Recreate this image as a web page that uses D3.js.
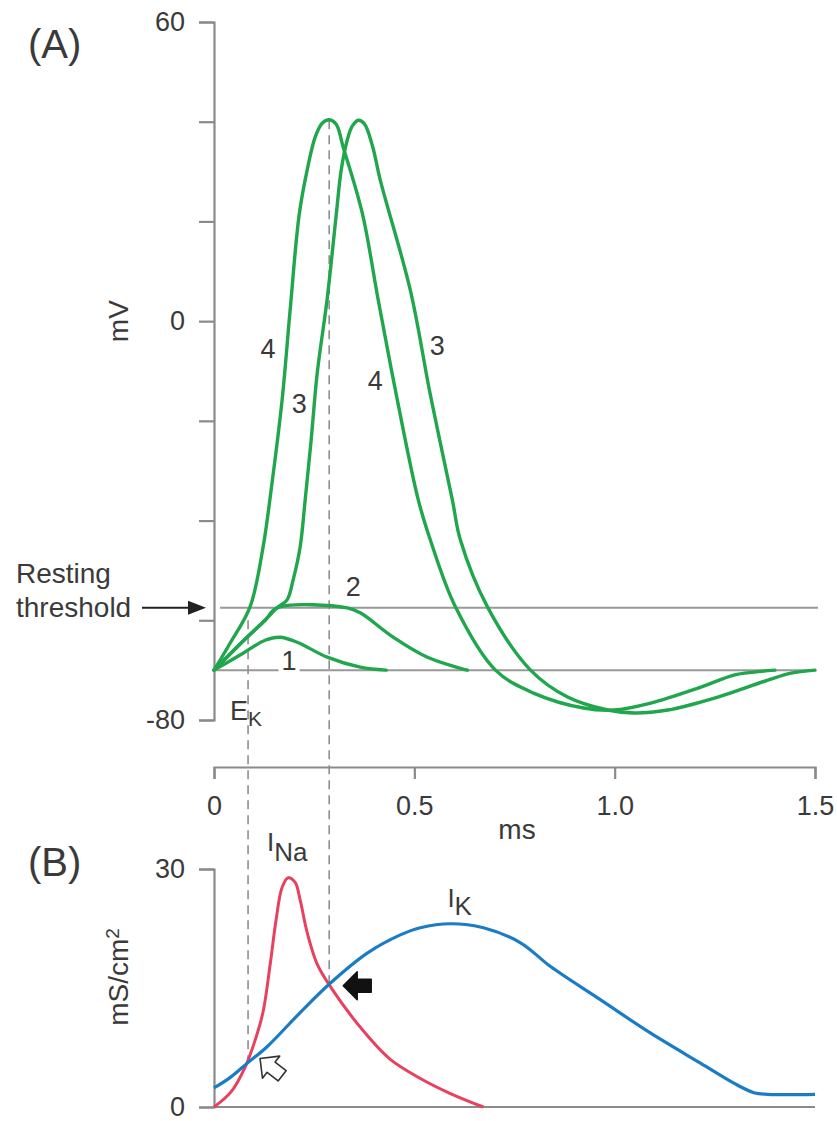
<!DOCTYPE html>
<html>
<head>
<meta charset="utf-8">
<script src="https://cdn.jsdelivr.net/npm/d3@7.9.0/dist/d3.min.js"></script>
<style>
  body { margin: 0; background: #fff; }
  svg text { font-family: "Liberation Sans", Arial, Helvetica, sans-serif; fill: #3a3a3a; }
</style>
</head>
<body>
<svg id="chart" width="837" height="1121"></svg>
<script>
// ---- panel A: membrane potential (ms, mV) ----
const curve1T = [0, 0.0725, 0.1275, 0.165, 0.2075, 0.2825, 0.365, 0.43];
const curve1V = [-70, -66.6, -64, -63.4, -64.4, -67.4, -69.4, -70];

const curve2T = [0, 0.0825, 0.1275, 0.1575, 0.3325, 0.365, 0.4475, 0.5325, 0.6325];
const curve2V = [-70, -63.4, -60, -57.5, -57.5, -58.5, -63.4, -67.4, -70];

const curve3T = [0, 0.0825, 0.1275, 0.1575, 0.1825, 0.1975, 0.215, 0.2275, 0.2425, 0.2575, 0.2825,
                 0.305, 0.3175, 0.3325, 0.345, 0.36, 0.375, 0.395, 0.415, 0.49, 0.54, 0.595, 0.615,
                 0.6825, 0.79, 0.8825, 0.9825, 1.0475, 1.1325, 1.2575, 1.3825, 1.44, 1.5];
const curve3V = [-70, -63.4, -60, -57.5, -55.9, -51.9, -45.3, -35.9, -23.8, -10.5, 4.5,
                 21.3, 30.3, 36.3, 39.1, 40.3, 39.6, 35.3, 28.3, 6.2, -14.8, -35.9, -43.9,
                 -57.3, -70, -75.4, -78, -78.6, -78, -75.4, -72, -70.6, -70];

const curve4T = [0, 0.04, 0.09, 0.1225, 0.1425, 0.17, 0.19, 0.2125, 0.2325, 0.2525, 0.27, 0.2875,
                 0.305, 0.3225, 0.37, 0.41, 0.4575, 0.51, 0.54, 0.6025, 0.7025, 0.7975, 0.9225,
                 0.9975, 1.09, 1.215, 1.2975, 1.3475, 1.4];
const curve4V = [-70, -64.6, -57.3, -45.3, -33.9, -15.8, 2.2, 21.3, 30.3, 36.9, 39.7, 40.4,
                 39.5, 34.9, 21.7, 4.2, -15.8, -35.9, -43.9, -57.3, -70, -74.6, -77.6,
                 -78, -76.6, -73.4, -71, -70.4, -70];

const restV = -70;
const thresholdV = -57.5;
const mvTicks = [-80, -60, -40, -20, 0, 20, 40, 60];
const mvTickLabels = ["-80", "", "", "", "0", "", "", "60"];
const msTicks = [0, 0.5, 1.0, 1.5];
const msTickLabels = ["0", "0.5", "1.0", "1.5"];

// ---- panel B: conductances (ms, mS/cm2) ----
const naT = [0, 0.0425, 0.0775, 0.1025, 0.1225, 0.14, 0.155, 0.17, 0.185, 0.2025, 0.215, 0.2325,
             0.2575, 0.29, 0.3725, 0.44, 0.515, 0.59, 0.6725];
const naG = [0, 1.9, 5.0, 8.4, 12.0, 17.9, 23.6, 27.7, 28.9, 28.3, 26.1, 22.0,
             18.0, 15.2, 9.6, 6.0, 3.6, 1.7, 0];

const kT = [0, 0.04, 0.0825, 0.1325, 0.215, 0.29, 0.3825, 0.465, 0.515, 0.59, 0.6725, 0.765,
            0.84, 0.965, 1.09, 1.215, 1.2975, 1.3475, 1.3825, 1.5];
const kG = [2.4, 3.7, 5.5, 7.6, 11.9, 15.6, 19.4, 21.7, 22.6, 23.1, 22.6, 20.7,
            17.7, 13.5, 9.3, 5.5, 3.0, 1.8, 1.6, 1.6];

const gTicks = [0, 30];

// dashed guide lines: time (ms), top in mV, bottom in mS/cm2
const ekTime = 0.085, ekTopV = -60, ekCrossG = 5.6;
const peakTime = 0.2875, peakTopV = 40.3, peakCrossG = 15.4;

const green = "#20a64c", blue = "#1b7cc6", red = "#e8405f", axisGray = "#8a8a8a";

const svg = d3.select("#chart");

const x = d3.scaleLinear().domain([0, 1.5]).range([214, 815]);
const yA = d3.scaleLinear().domain([-80, 60]).range([720, 22]);
const yB = d3.scaleLinear().domain([0, 30]).range([1107, 869]);

function styleAxis(g) {
  g.select(".domain").attr("stroke", axisGray).attr("stroke-width", 2.2);
  g.selectAll(".tick line").attr("stroke", axisGray).attr("stroke-width", 2.2);
  g.selectAll(".tick text").attr("fill", "#3a3a3a").style("font-size", "27px");
}

// panel A axes
svg.append("g")
  .attr("transform", `translate(${x(0)},0)`)
  .call(d3.axisLeft(yA).tickValues(mvTicks).tickSize(15).tickPadding(14)
    .tickFormat((d, i) => mvTickLabels[i]))
  .call(styleAxis);

svg.append("g")
  .attr("transform", "translate(0,767)")
  .call(d3.axisBottom(x).tickValues(msTicks).tickSize(12).tickPadding(17)
    .tickFormat((d, i) => msTickLabels[i]))
  .call(styleAxis);

// panel B axes
svg.append("g")
  .attr("transform", `translate(${x(0)},0)`)
  .call(d3.axisLeft(yB).tickValues(gTicks).tickSize(15).tickPadding(14))
  .call(styleAxis);

svg.append("line")
  .attr("x1", x(0)).attr("x2", x(1.5))
  .attr("y1", yB(0)).attr("y2", yB(0))
  .attr("stroke", axisGray).attr("stroke-width", 2.2);

// threshold and rest lines
svg.append("line")
  .attr("x1", x(0) + 6).attr("x2", x(1.5) + 3)
  .attr("y1", yA(thresholdV)).attr("y2", yA(thresholdV))
  .attr("stroke", "#999").attr("stroke-width", 2);
svg.append("line")
  .attr("x1", x(0)).attr("x2", x(1.5))
  .attr("y1", yA(restV)).attr("y2", yA(restV))
  .attr("stroke", "#999").attr("stroke-width", 2);

// dashed guides
[[ekTime, ekTopV, ekCrossG], [peakTime, peakTopV, peakCrossG]].forEach(([t, v, g]) => {
  svg.append("line")
    .attr("x1", x(t)).attr("x2", x(t))
    .attr("y1", yA(v)).attr("y2", yB(g))
    .attr("stroke", "#8f8f8f").attr("stroke-width", 1.6)
    .attr("stroke-dasharray", "9,6");
});

// "1" label sits in a gap of the rest line
const one = svg.append("text")
  .attr("x", x(0.1875)).attr("y", yA(-68))
  .attr("text-anchor", "middle").attr("dy", "0.36em")
  .style("font-size", "27px").text("1");
const ob = one.node().getBBox();
svg.insert("rect", () => one.node())
  .attr("x", ob.x - 3).attr("y", ob.y + 4)
  .attr("width", ob.width + 6).attr("height", ob.height - 6)
  .attr("fill", "#fff");

// voltage traces
const smooth = d3.curveCatmullRom.alpha(0.5);
const lineA = d3.line().x(d => x(d[0])).y(d => yA(d[1])).curve(smooth);
[[curve1T, curve1V], [curve2T, curve2V], [curve3T, curve3V], [curve4T, curve4V]].forEach(([t, v]) => {
  svg.append("path")
    .datum(t.map((d, i) => [d, v[i]]))
    .attr("d", lineA)
    .attr("fill", "none").attr("stroke", green)
    .attr("stroke-width", 3.4).attr("stroke-linejoin", "round").attr("stroke-linecap", "round");
});

// conductance traces
const lineB = d3.line().x(d => x(d[0])).y(d => yB(d[1])).curve(smooth);
svg.append("path")
  .datum(naT.map((d, i) => [d, naG[i]]))
  .attr("d", lineB).attr("fill", "none").attr("stroke", red).attr("stroke-width", 3);
svg.append("path")
  .datum(kT.map((d, i) => [d, kG[i]]))
  .attr("d", lineB).attr("fill", "none").attr("stroke", blue).attr("stroke-width", 3.2);

// curve number labels
const numLabels = [["4", 0.135, -5.4], ["3", 0.2125, -16.4], ["4", 0.4025, -11.8],
                   ["3", 0.5575, -4.8], ["2", 0.3475, -53.1]];
numLabels.forEach(([s, t, v]) => {
  svg.append("text")
    .attr("x", x(t)).attr("y", yA(v)).attr("dy", "0.36em")
    .attr("text-anchor", "middle").style("font-size", "27px").text(s);
});

// panel letters
svg.append("text").attr("x", 28).attr("y", 58).style("font-size", "40px").text("(A)");
svg.append("text").attr("x", 28).attr("y", 876).style("font-size", "40px").text("(B)");

// axis titles
svg.append("text")
  .attr("transform", `translate(128,${yA(0)}) rotate(-90)`)
  .attr("text-anchor", "middle").style("font-size", "28px").text("mV");
svg.append("text")
  .attr("x", 517).attr("y", 839)
  .attr("text-anchor", "middle").style("font-size", "28px").text("ms");
const gTitle = svg.append("text")
  .attr("transform", "translate(128,977) rotate(-90)")
  .attr("text-anchor", "middle").style("font-size", "28px");
gTitle.append("tspan").text("mS/cm");
gTitle.append("tspan").attr("dy", "-0.45em").style("font-size", "19px").text("2");

// resting threshold label and arrow
svg.append("text").attr("x", 16).attr("y", 583).style("font-size", "28px").text("Resting");
svg.append("text").attr("x", 16).attr("y", 617).style("font-size", "28px").text("threshold");
const ay = yA(thresholdV);
svg.append("line")
  .attr("x1", 142).attr("x2", 192).attr("y1", ay).attr("y2", ay)
  .attr("stroke", "#222").attr("stroke-width", 2);
svg.append("path")
  .attr("d", `M206,${ay} L188,${ay - 7} L188,${ay + 7} Z`)
  .attr("fill", "#222");

// E_K label
const ek = svg.append("text")
  .attr("x", x(ekTime) - 18).attr("y", 720).style("font-size", "27px");
ek.append("tspan").text("E");
ek.append("tspan").attr("dy", "0.3em").style("font-size", "21px").text("K");

// I_Na and I_K labels
const ina = svg.append("text").attr("x", x(0.1325)).attr("y", 851).style("font-size", "26px");
ina.append("tspan").text("I");
ina.append("tspan").attr("dy", "0.4em").text("Na");
const ik = svg.append("text").attr("x", x(0.5825)).attr("y", 907).style("font-size", "26px");
ik.append("tspan").text("I");
ik.append("tspan").attr("dy", "0.3em").text("K");

// block arrows pointing at the crossings
const arrowShape = "M0,0 L-14,-14 L-14,-6.5 L-28,-6.5 L-28,6.5 L-14,6.5 L-14,14 Z";
svg.append("path")
  .attr("d", arrowShape)
  .attr("transform", `translate(${x(peakTime) + 14},${yB(peakCrossG) + 1}) rotate(180)`)
  .attr("fill", "#111").attr("stroke", "#111").attr("stroke-width", 1.5)
  .attr("stroke-linejoin", "round");
svg.append("path")
  .attr("d", arrowShape)
  .attr("transform", `translate(${x(ekTime) + 12},${yB(ekCrossG) - 4}) rotate(218)`)
  .attr("fill", "#fff").attr("stroke", "#333").attr("stroke-width", 1.6)
  .attr("stroke-linejoin", "round");
</script>
</body>
</html>
